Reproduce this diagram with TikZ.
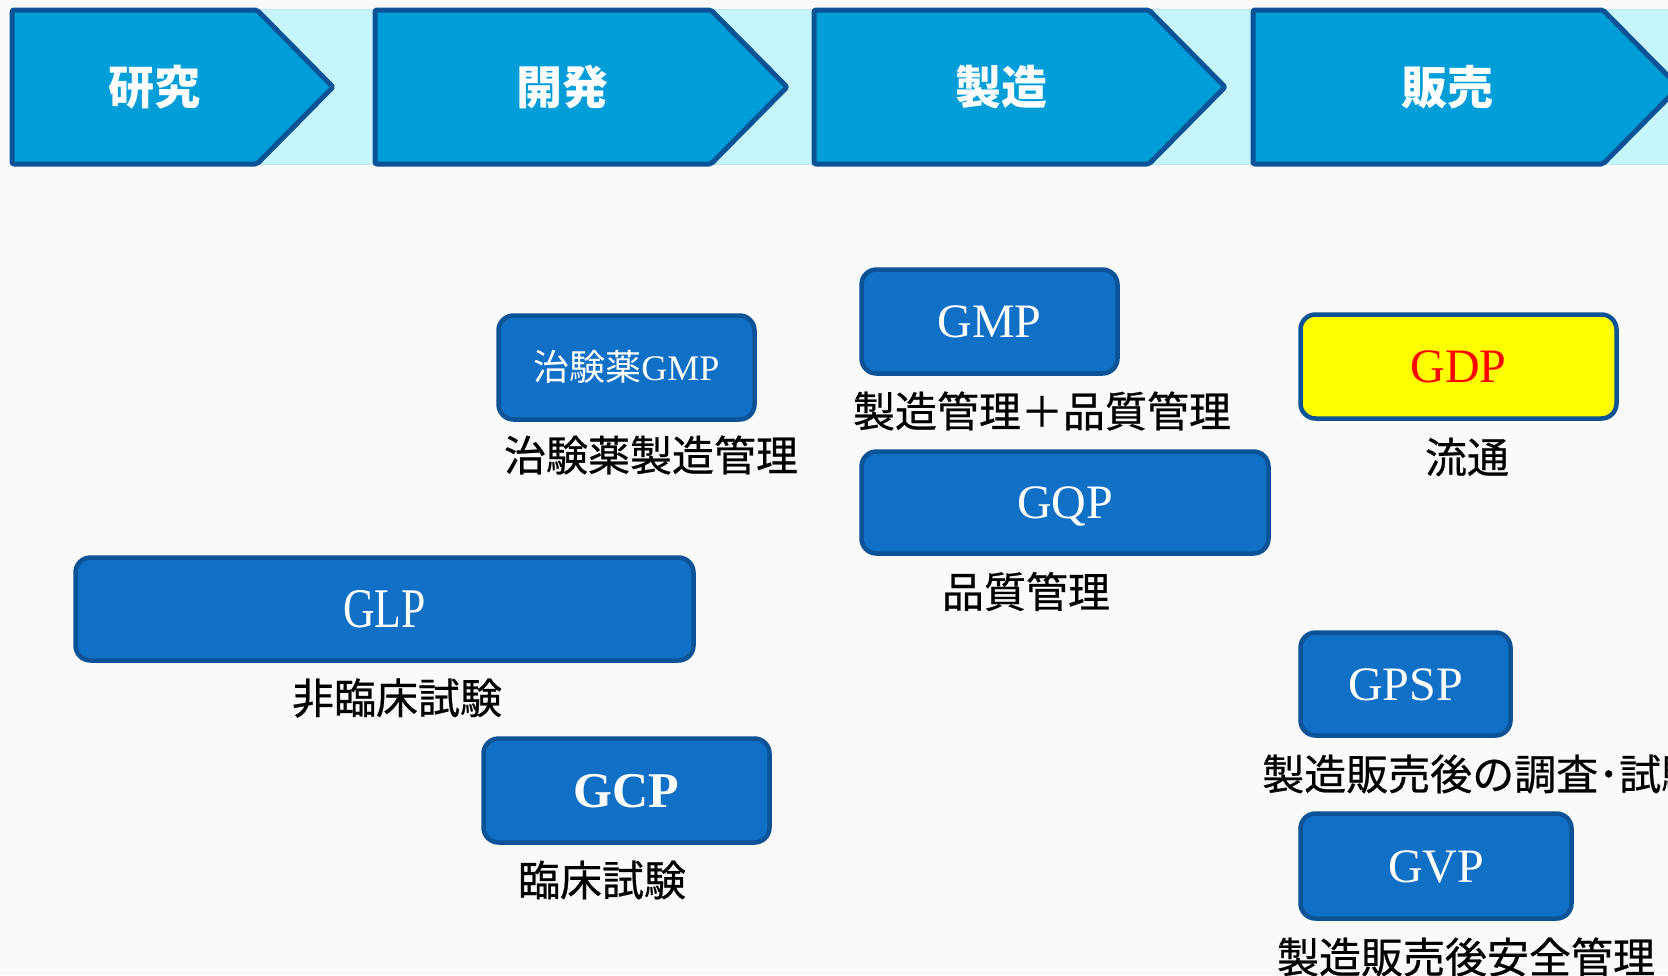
\documentclass[tikz,border=0pt]{standalone}
\usepackage{fontspec}
\setmainfont{Liberation Serif}
\newfontfamily\jp{Noto Sans CJK JP}
\newfontfamily\jplab{Noto Sans CJK JP}[FakeBold=0.6]
\definecolor{bgc}{HTML}{FAFAFA}
\definecolor{bandc}{HTML}{C6F6FB}
\definecolor{bandedge}{HTML}{BDE6F6}
\definecolor{arrfill}{HTML}{009ED8}
\definecolor{darkb}{HTML}{0B5396}
\definecolor{boxfill}{HTML}{1070C6}
\definecolor{gdpfill}{HTML}{FFFF00}
\definecolor{gdptext}{HTML}{FF0000}
\tikzset{
  arrowshape/.style={fill=arrfill, draw=darkb, line width=5pt, rounded corners=2pt, line join=round},
  headtext/.style={text=white, inner sep=0pt, font=\jp\bfseries\fontsize{46}{50}\selectfont},
  box/.style={rectangle, rounded corners=15pt, fill=boxfill, draw=darkb, line width=4.5pt,
    text=white, font=\fontsize{48}{54}\selectfont, text height=32pt, text depth=0pt, inner sep=0pt},
  lab/.style={inner sep=0pt, text=black, font=\jplab\fontsize{42}{46}\selectfont},
}
\begin{document}
\begin{tikzpicture}[x=1pt,y=-1pt]
\useasboundingbox (0,0) rectangle (1668,975);
\fill[bgc] (0,0) rectangle (1668,975);
% band
\fill[bandc] (12,9) rectangle (1668,165);
\draw[bandedge, line width=1.5pt] (12,9.5) -- (1668,9.5) (12,164.5) -- (1668,164.5);
% phase arrows
\draw[arrowshape] (12,10) -- (257,10) -- (333,87) -- (257,164) -- (12,164) -- cycle;
\draw[arrowshape] (375,10) -- (711,10) -- (787,87) -- (711,164) -- (375,164) -- cycle;
\draw[arrowshape] (814,10) -- (1149,10) -- (1225,87) -- (1149,164) -- (814,164) -- cycle;
\draw[arrowshape] (1253,10) -- (1603,10) -- (1679,87) -- (1603,164) -- (1253,164) -- cycle;
\node[headtext] (h1) at (154,87) {研究};
\node[headtext] (h2) at (562,87) {開発};
\node[headtext] (h3) at (1001,87) {製造};
\node[headtext] (h4) at (1447,87) {販売};
% boxes
\node[box, minimum width=618pt, minimum height=103pt, text height=37pt] (glp) at (384.5,609) {\scalebox{0.78}[1]{\fontsize{56}{60}\selectfont GLP}};
\node[box, minimum width=286pt, minimum height=104pt, text height=33pt] (gcp) at (626.5,790.5) {\fontsize{50}{56}\selectfont\bfseries GCP};
\node[box, minimum width=256pt, minimum height=104pt, text height=26pt] (cgmp) at (626.5,367.5) {\fontsize{36}{40}\selectfont{\jp 治験薬}GMP};
\node[box, minimum width=256pt, minimum height=104pt] (gmp) at (989.5,321.5) {GMP};
\node[box, minimum width=407pt, minimum height=102pt] (gqp) at (1065,502.5) {GQP};
\node[box, minimum width=316pt, minimum height=104pt, fill=gdpfill, text=gdptext] (gdp) at (1458.5,366.5) {GDP};
\node[box, minimum width=210pt, minimum height=103pt] (gpsp) at (1405.5,684) {GPSP};
\node[box, minimum width=271pt, minimum height=105pt] (gvp) at (1436,866) {GVP};
% labels
\node[lab] (l1) at (651,455) {治験薬製造管理};
\node[lab] (l2) at (1042,411) {製造管理＋品質管理};
\node[lab] (l3) at (1026,591.5) {品質管理};
\node[lab] (l4) at (1467,457) {流通};
\node[lab] (l5) at (397,698) {非臨床試験};
\node[lab] (l6) at (602,880) {臨床試験};
\node[lab, anchor=west] (l7) at (1262,774) {製造販売後の調査･試験};
\node[lab] (l8) at (1466,957) {製造販売後安全管理};
\end{tikzpicture}
\end{document}
